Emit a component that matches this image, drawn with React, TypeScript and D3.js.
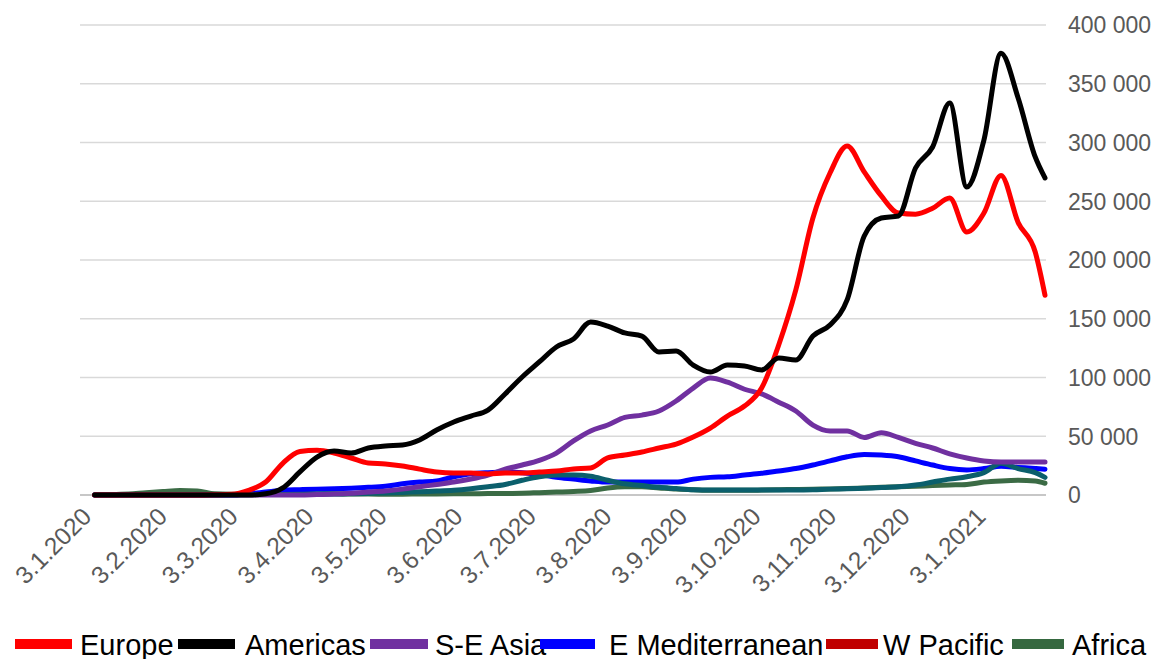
import React from 'react';
import * as d3 from 'd3';

const DATES = ["2020-01-07","2020-01-14","2020-01-21","2020-01-28","2020-02-04","2020-02-11","2020-02-18","2020-02-25","2020-03-03","2020-03-10","2020-03-17","2020-03-24","2020-03-31","2020-04-07","2020-04-14","2020-04-21","2020-04-28","2020-05-05","2020-05-12","2020-05-19","2020-05-26","2020-06-02","2020-06-09","2020-06-16","2020-06-23","2020-06-30","2020-07-07","2020-07-14","2020-07-21","2020-07-28","2020-08-04","2020-08-11","2020-08-18","2020-08-25","2020-09-01","2020-09-08","2020-09-15","2020-09-22","2020-09-29","2020-10-06","2020-10-13","2020-10-20","2020-10-27","2020-11-03","2020-11-10","2020-11-17","2020-11-24","2020-12-01","2020-12-08","2020-12-15","2020-12-22","2020-12-29","2021-01-05","2021-01-12","2021-01-19","2021-01-26","2021-01-30"];

const EUROPE = [0,0,0,0,0,0,0,200,600,4000,11000,27000,37000,38000,35700,31500,27200,26400,24700,22000,19600,18700,18700,17900,18700,18700,19600,20400,22100,23000,31500,34000,36600,40000,43400,49400,57000,67200,75700,91000,127700,174500,235700,274000,297000,275000,254500,240000,239000,244000,252800,223800,240000,272000,232000,206800,170000];
const AMERICAS = [0,0,0,0,0,0,0,0,0,0,1000,6000,19600,32300,37400,35700,40000,41700,42500,46800,55300,62100,67200,72300,86000,100400,113200,126000,132800,147200,143800,137900,135300,121700,122500,110600,104700,110600,109800,106400,116600,114900,135300,144700,166000,220400,235700,237400,278300,296200,333600,262100,302100,376000,337900,287700,269800];
const SE_ASIA = [0,0,0,0,0,0,0,0,0,0,0,0,0,400,800,1500,2500,3500,5000,7000,9000,11000,13600,17000,22000,25500,29500,35700,46000,54500,59600,66000,68000,71500,80000,91000,99500,96000,90000,86000,79000,71500,59500,54500,54500,49000,53000,49000,44000,40000,35000,31500,29000,28000,28000,28000,28000];
const E_MED = [0,0,0,0,0,0,0,0,0,1000,2500,4000,4500,5000,5300,5800,6500,7500,9500,11000,12000,15500,18000,19000,19500,19000,17500,15000,13500,12000,11000,11000,11000,11000,11000,13500,15000,15500,17000,18500,20500,22500,25500,29000,32500,34500,34000,32500,29000,25500,22500,21300,22500,24500,23500,22500,22000];
const W_PACIFIC = [200,300,800,2000,3000,3800,3500,1000,600,600,800,1000,1200,1100,1000,900,800,700,700,800,900,1000,1100,1200,1300,1500,2000,2500,3000,3800,6000,7000,7000,6000,5000,4500,4000,4000,4000,4200,4500,4700,5000,5200,5500,6000,6500,7000,7500,8000,8500,9000,11000,12000,12500,12000,10000];
const AFRICA = [300,300,300,300,300,300,300,300,300,300,400,500,600,700,900,1000,1300,1700,2200,2800,3300,4000,5300,7000,9000,12500,15500,17000,17000,16000,12500,9500,8000,6500,5500,4500,4300,4300,4300,4300,4300,4300,4500,5000,5300,5800,6300,7000,8500,11000,13500,15500,19000,27000,22500,19000,15000];

const Y_TICKS = [0, 50000, 100000, 150000, 200000, 250000, 300000, 350000, 400000];
const X_TICK_DATES = ["2020-01-03","2020-02-03","2020-03-03","2020-04-03","2020-05-03","2020-06-03","2020-07-03","2020-08-03","2020-09-03","2020-10-03","2020-11-03","2020-12-03","2021-01-03"];
const X_TICK_LABELS = ["3.1.2020","3.2.2020","3.3.2020","3.4.2020","3.5.2020","3.6.2020","3.7.2020","3.8.2020","3.9.2020","3.10.2020","3.11.2020","3.12.2020","3.1.2021"];
const LEGEND_NAMES = ["Europe","Americas","S-E Asia","E Mediterranean","W Pacific","Africa"];

const LEGEND_COLORS = ["#ff0000","#000000","#7030a0","#0000ff","#c00000","#35683f"];
const LEGEND_SWATCH_X = [15, 178, 370, 540, 826, 1012];
const LEGEND_SWATCH_W = [57, 57, 58, 55, 52, 52];
const LEGEND_TEXT_X = [80, 245, 435, 609, 883, 1072];

const FONT = '"Liberation Sans", Arial, Helvetica, sans-serif';

export default function App() {
  const parse = d3.timeParse("%Y-%m-%d");
  const dates = DATES.map((s) => parse(s) as Date);
  const x = d3.scaleTime().domain([parse("2020-01-01") as Date, parse("2021-01-30") as Date]).range([80, 1045]);
  const y = d3.scaleLinear().domain([0, 400000]).range([495, 25]);
  const lineGen = d3.line<number>()
    .x((_, i) => x(dates[i]))
    .y((d) => y(d))
    .curve(d3.curveMonotoneX);

  // drawing order bottom -> top, with plot colours
  const lines = [
    { vals: W_PACIFIC, color: "#3b6b45" },
    { vals: E_MED, color: "#0000ff" },
    { vals: AFRICA, color: "#0b5f6c" },
    { vals: SE_ASIA, color: "#7030a0" },
    { vals: EUROPE, color: "#ff0000" },
    { vals: AMERICAS, color: "#000000" },
  ];
  const fmt = (v: number) => d3.format(",")(v).replace(/,/g, " ");

  return (
    <svg width={1157} height={659} style={{ position: 'absolute', left: 0, top: 0, background: '#fff' }} fontFamily={FONT}>
      <rect x={0} y={0} width={1157} height={659} fill="#ffffff" />
      {Y_TICKS.map((t) => (
        <g key={t}>
          <line x1={80} x2={1046} y1={y(t)} y2={y(t)} stroke={t === 0 ? "#b4b4b4" : "#d9d9d9"} strokeWidth={1.6} />
          <text x={1068} y={y(t)} dy="0.36em" fontSize={23} fill="#595959">{fmt(t)}</text>
        </g>
      ))}
      {X_TICK_DATES.map((d, i) => {
        const px = x(parse(d) as Date) + 8;
        return (
          <text key={d} transform={`translate(${px},518) rotate(-45)`} textAnchor="end" fontSize={24.5} fill="#595959">
            {X_TICK_LABELS[i]}
          </text>
        );
      })}
      {lines.map((l, i) => (
        <path key={i} d={lineGen(l.vals) || ''} fill="none" stroke={l.color} strokeWidth={5} strokeLinejoin="round" strokeLinecap="round" />
      ))}
      {LEGEND_NAMES.map((n, i) => (
        <g key={n}>
          <rect x={LEGEND_SWATCH_X[i]} y={639} width={LEGEND_SWATCH_W[i]} height={10} fill={LEGEND_COLORS[i]} />
          <text x={LEGEND_TEXT_X[i]} y={655} fontSize={29} fill="#000000">{n}</text>
        </g>
      ))}
    </svg>
  );
}
